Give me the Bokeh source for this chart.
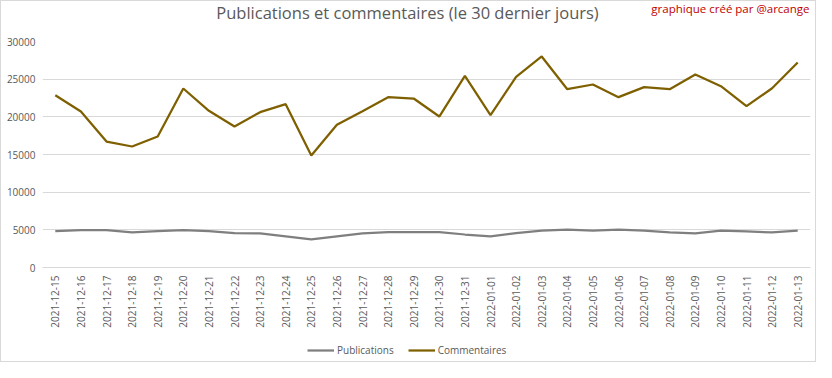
from bokeh.plotting import figure
from bokeh.layouts import column
from bokeh.models import (Range1d, FactorRange, FixedTicker, BasicTickFormatter,
                          Label, Legend, LegendItem)
from bokeh.embed import file_html
from bokeh.resources import INLINE
from math import pi

dates = ["2021-12-15", "2021-12-16", "2021-12-17", "2021-12-18", "2021-12-19",
         "2021-12-20", "2021-12-21", "2021-12-22", "2021-12-23", "2021-12-24",
         "2021-12-25", "2021-12-26", "2021-12-27", "2021-12-28", "2021-12-29",
         "2021-12-30", "2021-12-31", "2022-01-01", "2022-01-02", "2022-01-03",
         "2022-01-04", "2022-01-05", "2022-01-06", "2022-01-07", "2022-01-08",
         "2022-01-09", "2022-01-10", "2022-01-11", "2022-01-12", "2022-01-13"]

publications = [4820, 4960, 4960, 4650, 4820, 4960, 4820, 4560, 4520, 4120,
                3720, 4120, 4520, 4690, 4690, 4690, 4380, 4120, 4560, 4910,
                5040, 4910, 5040, 4910, 4650, 4520, 4910, 4780, 4650, 4910]

commentaires = [22870, 20700, 16720, 16060, 17390, 23760, 20800, 18720, 20620, 21680,
                14870, 18940, 20750, 22610, 22430, 20040, 25440, 20220, 25310, 28010,
                23670, 24290, 22610, 23940, 23670, 25620, 24070, 21420, 23800, 27210]

y_ticks = [0, 5000, 10000, 15000, 20000, 25000, 30000]
series_names = ["Publications", "Commentaires"]

title_text = "Publications et commentaires (le 30 dernier jours)"
credit_text = "graphique créé par @arcange"

FONT = "Open Sans"
GREY_TXT = "#595959"
GRID = "#d9d9d9"
C_PUB = "#7f7f7f"
C_COM = "#7f6000"

W = 814
BL, BR = 41, 5
HEAD_H, MAIN_H, FOOT_H = 33, 303, 24
NAN = float("nan")


def blank(height):
    # frames of plots in a column are aligned, so use the same side borders as
    # the main chart and map the range 1:1 onto figure pixels
    f = figure(width=W, height=height, output_backend="svg", toolbar_location=None,
               x_range=Range1d(BL, W - BR), y_range=Range1d(0, height),
               x_axis_type=None, y_axis_type=None, min_border=0,
               min_border_left=BL, min_border_right=BR,
               min_border_top=0, min_border_bottom=0)
    f.outline_line_color = None
    f.background_fill_color = "white"
    f.border_fill_color = "white"
    return f


# ---- header: title and credit
head = blank(HEAD_H)
head.add_layout(Label(x=406, y=HEAD_H - 11, text=title_text,
                      text_align="center", text_baseline="middle",
                      text_font=FONT, text_font_size="16.5px", text_color=GREY_TXT))
head.add_layout(Label(x=W - BR - 1, y=HEAD_H - 7, text=credit_text,
                      text_align="right", text_baseline="middle",
                      text_font=FONT, text_font_size="11.5px", text_color="#c00000"))

# ---- main chart
p = figure(width=W, height=MAIN_H, output_backend="svg", toolbar_location=None,
           x_range=FactorRange(factors=dates, range_padding=0),
           y_range=Range1d(0, 30000),
           min_border_left=BL, min_border_right=BR, min_border_top=7,
           min_border_bottom=70)
p.outline_line_color = None
p.background_fill_color = "white"
p.border_fill_color = "white"

p.line(x=dates, y=publications, line_color=C_PUB, line_width=2.25)
p.line(x=dates, y=commentaires, line_color=C_COM, line_width=2.25)

p.yaxis.ticker = FixedTicker(ticks=y_ticks)
p.yaxis.formatter = BasicTickFormatter(use_scientific=False)
p.yaxis.axis_line_color = None
p.yaxis.major_tick_line_color = None
p.yaxis.minor_tick_line_color = None
p.yaxis.major_tick_out = 0
p.yaxis.major_tick_in = 0
p.yaxis.minor_tick_out = 0
p.yaxis.major_label_text_font = FONT
p.yaxis.major_label_text_font_size = "10px"
p.yaxis.major_label_text_color = GREY_TXT
p.yaxis.major_label_standoff = 7

p.xaxis.axis_line_color = GRID
p.xaxis.major_tick_line_color = None
p.xaxis.minor_tick_line_color = None
p.xaxis.major_tick_out = 0
p.xaxis.major_tick_in = 0
p.xaxis.minor_tick_out = 0
p.xaxis.major_label_orientation = pi / 2
p.xaxis.major_label_text_font = FONT
p.xaxis.major_label_text_font_size = "10px"
p.xaxis.major_label_text_color = GREY_TXT
p.xaxis.major_label_standoff = 8

p.xgrid.grid_line_color = None
p.ygrid.grid_line_color = GRID
p.ygrid.grid_line_width = 1

# ---- footer: legend
foot = blank(FOOT_H)
k_pub = foot.line(x=[NAN], y=[NAN], line_color=C_PUB, line_width=2.25)
k_com = foot.line(x=[NAN], y=[NAN], line_color=C_COM, line_width=2.25)
legend = Legend(items=[LegendItem(label=series_names[0], renderers=[k_pub]),
                       LegendItem(label=series_names[1], renderers=[k_com])],
                orientation="horizontal", location=(306 - BL, 4),
                label_text_font=FONT, label_text_font_size="10px",
                label_text_color=GREY_TXT, glyph_width=27, glyph_height=14,
                label_height=14, label_standoff=3, spacing=14, padding=0, margin=0,
                border_line_color=None, background_fill_alpha=0)
foot.add_layout(legend, "center")

layout = column(head, p, foot, spacing=0,
                styles={"border": "1px solid #d9d9d9"})

open("out.html", "w").write(file_html(layout, INLINE))
